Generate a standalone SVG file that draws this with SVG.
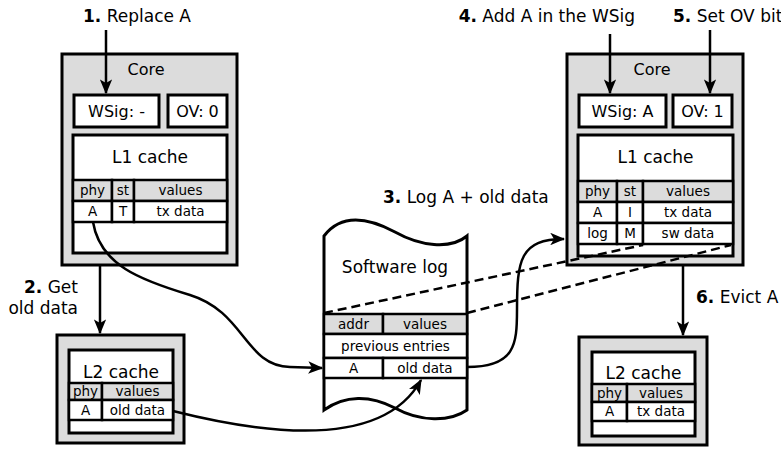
<svg xmlns="http://www.w3.org/2000/svg" width="781" height="452" viewBox="0 0 781 452">
<defs>
<marker id="ah" viewBox="0 0 12 10" refX="11" refY="5" markerWidth="6" markerHeight="5" orient="auto" markerUnits="strokeWidth">
<path d="M0,0 L12,5 L0,10 L3,5 z" fill="#000"/>
</marker>
<style>
text{font-family:"DejaVu Sans","Liberation Sans",sans-serif;fill:#000}
.outer{fill:#dcdcdc;stroke:#000;stroke-width:3}
.wb{fill:#fff;stroke:#000;stroke-width:3}
.cell{fill:#fff;stroke:#000;stroke-width:2.5}
.hdr{fill:#dcdcdc;stroke:#000;stroke-width:2.5}
.t16{font-size:16px}
.t17{font-size:17px}
.t13{font-size:13.5px}
.lbl{font-size:17px}
.b{font-weight:bold}
.arr{fill:none;stroke:#000;stroke-width:2.5;marker-end:url(#ah)}
.dash{fill:none;stroke:#000;stroke-width:2.5;stroke-dasharray:9,5}
</style>
</defs>

<g id="labels">
<text class="lbl" x="83" y="22"><tspan class="b">1.</tspan> Replace A</text>
<text class="lbl" x="78" y="293" text-anchor="end"><tspan class="b">2.</tspan> Get</text>
<text class="lbl" x="78" y="314" text-anchor="end">old data</text>
<text class="lbl" x="383" y="203"><tspan class="b">3.</tspan> Log A + old data</text>
<text class="lbl" x="635" y="22" text-anchor="end"><tspan class="b">4.</tspan> Add A in the WSig</text>
<text class="lbl" x="673" y="22"><tspan class="b">5.</tspan> Set OV bit</text>
<text class="lbl" x="696" y="303"><tspan class="b">6.</tspan> Evict A</text>
</g>

<g id="core-left">
<rect class="outer" x="62" y="54" width="175" height="211"/>
<text class="t16" x="146" y="75" text-anchor="middle">Core</text>
<rect class="wb" x="74" y="95" width="85" height="32"/>
<text class="t16" x="116.5" y="117" text-anchor="middle">WSig: -</text>
<rect class="wb" x="168" y="95" width="59" height="32"/>
<text class="t16" x="197.5" y="117" text-anchor="middle">OV: 0</text>
<rect class="wb" x="73" y="135" width="154" height="118"/>
<text class="t17" x="150" y="163" text-anchor="middle">L1 cache</text>
<rect class="hdr" x="73" y="180" width="39" height="21"/>
<rect class="hdr" x="112" y="180" width="22" height="21"/>
<rect class="hdr" x="134" y="180" width="93" height="21"/>
<rect class="cell" x="73" y="201" width="39" height="21"/>
<rect class="cell" x="112" y="201" width="22" height="21"/>
<rect class="cell" x="134" y="201" width="93" height="21"/>
<text class="t13" x="92.5" y="195" text-anchor="middle">phy</text>
<text class="t13" x="123" y="195" text-anchor="middle">st</text>
<text class="t13" x="180.5" y="195" text-anchor="middle">values</text>
<text class="t13" x="92.5" y="216" text-anchor="middle">A</text>
<text class="t13" x="123" y="216" text-anchor="middle">T</text>
<text class="t13" x="180.5" y="216" text-anchor="middle">tx data</text>
</g>

<g id="l2-left">
<rect class="outer" x="57" y="335" width="127" height="108"/>
<rect class="wb" x="69" y="350" width="104" height="83"/>
<text class="t17" x="121" y="378" text-anchor="middle">L2 cache</text>
<rect class="hdr" x="69" y="383" width="33" height="17"/>
<rect class="hdr" x="102" y="383" width="71" height="17"/>
<rect class="cell" x="69" y="400" width="33" height="20"/>
<rect class="cell" x="102" y="400" width="71" height="20"/>
<text class="t13" x="85.5" y="396" text-anchor="middle">phy</text>
<text class="t13" x="137.5" y="396" text-anchor="middle">values</text>
<text class="t13" x="85.5" y="415" text-anchor="middle">A</text>
<text class="t13" x="137.5" y="415" text-anchor="middle">old data</text>
</g>

<g id="software-log">
<path d="M324,410 L324,236 C340,215 365,216 395,232 C420,246 450,250 467,236 L467,410 C450,422 420,422 395,408 C370,395 345,395 324,410 Z" fill="#fff" stroke="#000" stroke-width="3"/>
<text class="t17" x="395" y="273" text-anchor="middle">Software log</text>
<rect class="hdr" x="324" y="314" width="59" height="20"/>
<rect class="hdr" x="383" y="314" width="84" height="20"/>
<rect class="cell" x="324" y="334" width="143" height="24"/>
<rect class="cell" x="324" y="358" width="59" height="20"/>
<rect class="cell" x="383" y="358" width="84" height="20"/>
<text class="t13" x="353.5" y="329" text-anchor="middle">addr</text>
<text class="t13" x="425" y="329" text-anchor="middle">values</text>
<text class="t13" x="395.5" y="351" text-anchor="middle">previous entries</text>
<text class="t13" x="353.5" y="373" text-anchor="middle">A</text>
<text class="t13" x="425" y="373" text-anchor="middle">old data</text>
</g>

<g id="core-right">
<rect class="outer" x="567" y="54" width="176" height="211"/>
<text class="t16" x="652" y="75" text-anchor="middle">Core</text>
<rect class="wb" x="579" y="95" width="87" height="32"/>
<text class="t16" x="622.5" y="117" text-anchor="middle">WSig: A</text>
<rect class="wb" x="673" y="95" width="59" height="32"/>
<text class="t16" x="702.5" y="117" text-anchor="middle">OV: 1</text>
<rect class="wb" x="578" y="135" width="155" height="121"/>
<text class="t17" x="655.5" y="163" text-anchor="middle">L1 cache</text>
<rect class="hdr" x="578" y="181" width="39" height="21"/>
<rect class="hdr" x="617" y="181" width="26" height="21"/>
<rect class="hdr" x="643" y="181" width="90" height="21"/>
<rect class="cell" x="578" y="202" width="39" height="21"/>
<rect class="cell" x="617" y="202" width="26" height="21"/>
<rect class="cell" x="643" y="202" width="90" height="21"/>
<rect class="cell" x="578" y="223" width="39" height="21"/>
<rect class="cell" x="617" y="223" width="26" height="21"/>
<rect class="cell" x="643" y="223" width="90" height="21"/>
<text class="t13" x="597.5" y="196" text-anchor="middle">phy</text>
<text class="t13" x="630" y="196" text-anchor="middle">st</text>
<text class="t13" x="688" y="196" text-anchor="middle">values</text>
<text class="t13" x="597.5" y="217" text-anchor="middle">A</text>
<text class="t13" x="630" y="217" text-anchor="middle">I</text>
<text class="t13" x="688" y="217" text-anchor="middle">tx data</text>
<text class="t13" x="597.5" y="238" text-anchor="middle">log</text>
<text class="t13" x="630" y="238" text-anchor="middle">M</text>
<text class="t13" x="688" y="238" text-anchor="middle">sw data</text>
</g>

<g id="l2-right">
<rect class="outer" x="579" y="337" width="128" height="108"/>
<rect class="wb" x="592" y="352" width="103" height="84"/>
<text class="t17" x="643.5" y="379" text-anchor="middle">L2 cache</text>
<rect class="hdr" x="592" y="384" width="35" height="18"/>
<rect class="hdr" x="627" y="384" width="68" height="18"/>
<rect class="cell" x="592" y="402" width="35" height="19"/>
<rect class="cell" x="627" y="402" width="68" height="19"/>
<text class="t13" x="609.5" y="398" text-anchor="middle">phy</text>
<text class="t13" x="661" y="398" text-anchor="middle">values</text>
<text class="t13" x="609.5" y="416" text-anchor="middle">A</text>
<text class="t13" x="661" y="416" text-anchor="middle">tx data</text>
</g>

<g id="connectors">
<line class="arr" x1="106" y1="30" x2="106" y2="93"/>
<line class="arr" x1="610" y1="34" x2="610" y2="93"/>
<line class="arr" x1="710" y1="30" x2="710" y2="93"/>
<line class="arr" x1="100" y1="266" x2="100" y2="333"/>
<line class="arr" x1="683" y1="266" x2="683" y2="335"/>
<path class="arr" d="M93,222 C100,265 140,280 190,295 C245,312 245,366 290,367 L322,368"/>
<path class="arr" d="M173,411 C280,438 385,445 421,380"/>
<path class="arr" d="M467,367 C515,367 517,345 517,310 C517,260 520,239 564,239"/>
<line class="dash" x1="324" y1="313" x2="643" y2="245"/>
<line class="dash" x1="467" y1="313" x2="731" y2="245"/>
</g>
</svg>
